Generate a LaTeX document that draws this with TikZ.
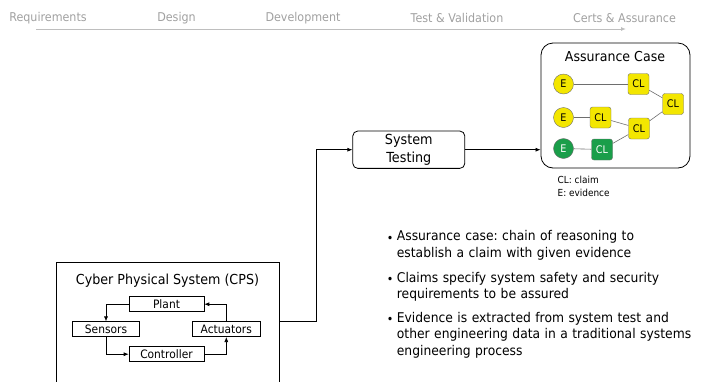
\documentclass[tikz,border=0pt]{standalone}
\usepackage{fontspec}
\setmainfont{DejaVu Sans}[FakeStretch=0.92]
\usetikzlibrary{arrows.meta}
\frenchspacing
\definecolor{phase}{RGB}{160,160,160}
\definecolor{phaseline}{RGB}{190,190,190}
\definecolor{ayellow}{RGB}{243,230,0}
\definecolor{agreen}{RGB}{26,158,74}
\definecolor{aedge}{RGB}{110,110,110}
\tikzset{
  phaselbl/.style={text=phase, font=\fontsize{12.1}{14}\selectfont, inner sep=0pt},
  evid/.style={circle, draw=aedge, fill=ayellow, minimum size=20pt, inner sep=0pt, font=\fontsize{10.5}{12}\selectfont},
  evidg/.style={evid, fill=agreen, text=white},
  claim/.style={rounded corners=2.5pt, draw=aedge, fill=ayellow, minimum width=21pt, minimum height=21pt, inner sep=0pt, font=\fontsize{10.5}{12}\selectfont},
  claimg/.style={claim, fill=agreen, text=white},
  alink/.style={draw=aedge, line width=0.6pt},
  cpsbox/.style={draw, line width=0.6pt, inner sep=0pt, font=\fontsize{11.6}{13}\selectfont},
  flow/.style={-{Latex[length=5pt,width=4pt]}, line width=0.7pt},
  bul/.style={anchor=north west, align=left, inner sep=0pt, text width=320pt, font=\fontsize{13.4}{16.7}\selectfont},
}
\begin{document}
\begin{tikzpicture}[x=1pt, y=-1pt]
\useasboundingbox (0,0) rectangle (710,381);
% phases
\node[phaselbl] (p1) at (48,18) {Requirements};
\node[phaselbl] (p2) at (176.5,18) {Design};
\node[phaselbl] (p3) at (303,18) {Development};
\node[phaselbl] (p4) at (457,18) {Test \& Validation};
\node[phaselbl] (p5) at (624.5,18) {Certs \& Assurance};
\coordinate (ps) at (36,29);
\coordinate (pe) at (626,29);
\draw[phaseline, line width=1pt, -{Latex[length=5pt,width=4pt]}] (ps) -- (pe);

% assurance case
\node[draw, line width=0.8pt, rounded corners=12pt, minimum width=149pt, minimum height=125pt] (ac) at (615.5,105.5) {};
\node[font=\fontsize{13.7}{15}\selectfont] (actitle) at (615,57) {Assurance Case};
\node[evid] (e1) at (563.5,84) {E};
\node[evid] (e2) at (563.5,117.5) {E};
\node[evidg] (e3) at (563.5,148.5) {E};
\node[claim] (c1) at (638.5,84) {CL};
\node[claim] (c2) at (600.5,117.5) {CL};
\node[claimg] (c3) at (602,149.5) {CL};
\node[claim] (c4) at (639,128.5) {CL};
\node[claim] (c5) at (673,104) {CL};
\draw[alink] (e1) -- (c1);
\draw[alink] (e2) -- (c2);
\draw[alink] (e3) -- (c3);
\draw[alink] (c2) -- (c4);
\draw[alink] (c3) -- (c4);
\draw[alink] (c1) -- (c5);
\draw[alink] (c4) -- (c5);
\node[anchor=west, inner sep=0pt, font=\fontsize{9.7}{12}\selectfont] (l1) at (557.5,180) {CL: claim};
\node[anchor=west, inner sep=0pt, font=\fontsize{9.7}{12}\selectfont] (l2) at (557.5,192.5) {E: evidence};

% system testing
\node[draw, line width=0.8pt, rounded corners=5pt, minimum width=112pt, minimum height=37pt, align=center, font=\fontsize{13.9}{17.5}\selectfont] (st) at (408.8,149.7) {System\\Testing};
\draw[flow] (st.east) -- (st.east -| ac.west);

% CPS
\draw[line width=0.8pt] (56,392) -- (56,262.3) coordinate (cpstl) -- (279.3,262.3) -- (279.3,392);
\coordinate (cpsout) at (279.3,321.7);
\coordinate (bend) at (316.7,321.7);
\draw[flow] (cpsout) -- (bend) |- (st.west);
\node[font=\fontsize{13.8}{15}\selectfont] (cpstitle) at (167.5,280.7) {Cyber Physical System (CPS)};
\node[cpsbox, minimum width=75pt, minimum height=15pt] (plant) at (166.5,304.2) {Plant};
\node[cpsbox, minimum width=66.6pt, minimum height=15pt] (sens) at (106,329.2) {Sensors};
\node[cpsbox, minimum width=67.3pt, minimum height=15pt] (act) at (226.3,329.2) {Actuators};
\node[cpsbox, minimum width=75pt, minimum height=15pt] (ctrl) at (166.5,354.2) {Controller};
\draw[flow] (plant.west) -| (sens.north);
\draw[flow] (sens.south) |- (ctrl.west);
\draw[flow] (ctrl.east) -| (act.south);
\draw[flow] (act.north) |- (plant.east);

% bullets
\node[bul] (b1) at (396.7,230) {Assurance case: chain of reasoning to\\establish a claim with given evidence};
\node[bul] (b2) at (396.7,271.7) {Claims specify system safety and security\\requirements to be assured};
\node[bul] (b3) at (396.7,311.7) {Evidence is extracted from system test and\\other engineering data in a traditional systems\\engineering process};
\foreach \b in {b1,b2,b3}{
  \node[font=\fontsize{12}{14}\selectfont, anchor=base east, inner sep=0pt] at ([xshift=-3pt,yshift=-12pt]\b.north west) {•};
}
\end{tikzpicture}
\end{document}
